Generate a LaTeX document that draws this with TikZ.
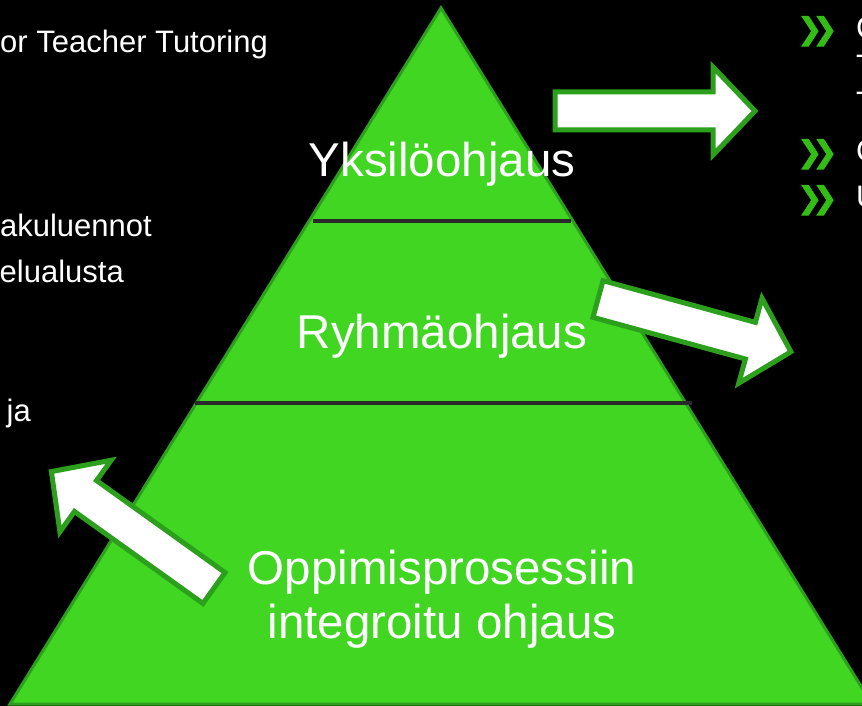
\documentclass[tikz,border=0pt]{standalone}
\usepackage{fontspec}
\setmainfont{Liberation Sans}
\newfontfamily\dejavu[FakeBold=2.5]{DejaVu Sans}
\definecolor{pyrfill}{RGB}{64,214,34}
\definecolor{pyrline}{RGB}{44,160,28}
\definecolor{bulletgreen}{RGB}{50,190,20}
\definecolor{divline}{RGB}{42,42,42}
\tikzset{
  barrow/.pic={\draw[blockarrow] (0,-19) -- (158,-19) -- (158,-44) -- (200,0) -- (158,44) -- (158,19) -- (0,19) -- cycle;}
}
\begin{document}
\begin{tikzpicture}[x=1pt,y=-1pt,
  bigtxt/.style={text=white,font=\fontsize{47.5}{54}\selectfont,inner sep=0pt,anchor=base},
  sidetxt/.style={text=white,font=\fontsize{31}{36}\selectfont,inner sep=0pt},
  bul/.style={text=bulletgreen,font=\dejavu\fontsize{30}{32}\selectfont,inner sep=0pt,anchor=base west},
  blockarrow/.style={fill=white,draw=pyrline,line width=5pt,line join=miter,miter limit=10},
  divider/.style={draw=divline,line width=4.5pt}]
\fill[black] (0,0) rectangle (862,706);
\useasboundingbox (0,0) rectangle (862,706);
\clip (0,0) rectangle (862,706);
% pyramid
\coordinate (apex) at (441,8);
\coordinate (bl) at (10,704);
\coordinate (br) at (872,704);
\draw[fill=pyrfill,draw=pyrline,line width=3pt,line join=miter] (apex) -- (bl) -- (br) -- cycle;
\coordinate (d1l) at (313,221);
\coordinate (d1r) at (571,221);
\coordinate (d2l) at (195,403);
\coordinate (d2r) at (692,403);
\draw[divider] (d1l) -- (d1r);
\draw[divider] (d2l) -- (d2r);
% pyramid labels
\node[bigtxt] (yks) at (442,176) {Yksilöohjaus};
\node[bigtxt] (ryh) at (442,348) {Ryhmäohjaus};
\node[bigtxt] (opp) at (442,584) {Oppimisprosessiin};
\node[bigtxt] (int) at (442,638) {integroitu ohjaus};
% arrows
\pic (a1) at (555,111) {barrow};
\pic (a2) [rotate=-15.3] at (598,299) {barrow};
\pic (a3) [rotate=144.4] at (214,588) {barrow};
% left texts
\node[sidetxt,anchor=base east] (l1) at (268,53) {or Teacher Tutoring};
\node[sidetxt,anchor=base east] (l2) at (152,236) {akuluennot};
\node[sidetxt,anchor=base east] (l3) at (124,282) {elualusta};
\node[sidetxt,anchor=base east] (l4) at (31,421) {ja};
% right bullets
\node[bul] (b1) at (797,39) {❯\kern-10pt❯};
\node[bul] (b2) at (797,162) {❯\kern-10pt❯};
\node[bul] (b3) at (797,208) {❯\kern-10pt❯};
\node[sidetxt,anchor=base west] (r1) at (856,39) {C};
\node[sidetxt,anchor=base west] (r2) at (856,77) {T};
\node[sidetxt,anchor=base west] (r3) at (856,114) {T};
\node[sidetxt,anchor=base west] (r4) at (856,161) {C};
\node[sidetxt,anchor=base west] (r5) at (856,207) {U};
\end{tikzpicture}
\end{document}
